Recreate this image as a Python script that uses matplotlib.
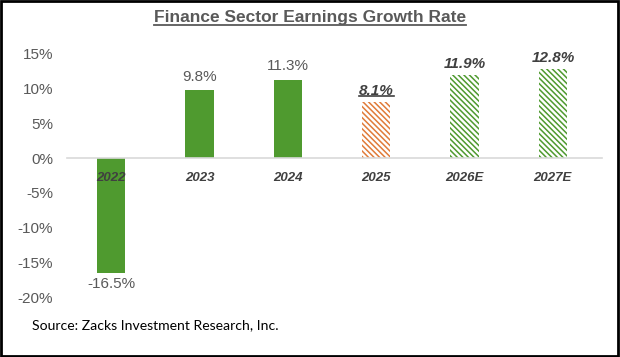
import matplotlib.pyplot as plt
from matplotlib.patches import Rectangle
from matplotlib.lines import Line2D

categories = ["2022", "2023", "2024", "2025", "2026E", "2027E"]
growth = [-16.5, 9.8, 11.3, 8.1, 11.9, 12.8]
labels = ["-16.5%", "9.8%", "11.3%", "8.1%", "11.9%", "12.8%"]
yticks = [-20, -15, -10, -5, 0, 5, 10, 15]

green = "#4f9a2f"
orange = "#e07b39"
gray = "#595959"

plt.rcParams["font.family"] = ["Liberation Sans", "DejaVu Sans"]
plt.rcParams["hatch.linewidth"] = 1.1

fig = plt.figure(figsize=(6.2, 3.57), dpi=100)
ax = fig.add_axes([0.108, 0.168, 0.855, 0.681])

x = list(range(len(categories)))
for i, v in enumerate(growth):
    if i < 3:
        ax.bar(x[i], v, width=0.32, color=green, linewidth=0)
    else:
        c = orange if i == 3 else green
        ax.bar(x[i], v, width=0.32, facecolor="white", edgecolor=c,
               hatch="\\" * 6, linewidth=0)

ax.set_xlim(-0.5, len(categories) - 0.5)
ax.set_ylim(-20, 15)
ax.set_yticks(yticks)
ax.set_yticklabels([f"{t}%" for t in yticks], fontsize=11, color=gray)
ax.tick_params(axis="y", length=0, pad=10)
ax.set_xticks([])
for s in ax.spines.values():
    s.set_visible(False)
ax.axhline(0, color="#d9d9d9", linewidth=1.2, xmax=1.01, clip_on=False)

# category labels just under the zero line
for i, c in enumerate(categories):
    ax.annotate(c, (x[i], 0), xytext=(0, -14), textcoords="offset points",
                ha="center", va="center", fontsize=9.5, fontweight="bold",
                fontstyle="italic", color="#404040")

# value labels
for i, v in enumerate(growth):
    if i >= 3:
        ax.annotate(labels[i], (x[i], v), xytext=(0, 3), textcoords="offset points",
                    ha="center", va="bottom", fontsize=11, fontweight="bold",
                    fontstyle="italic", color="#404040")
    else:
        ax.annotate(labels[i], (x[i], v), xytext=(0, 4.5 if v > 0 else -3),
                    textcoords="offset points", ha="center",
                    va="bottom" if v > 0 else "top", fontsize=11, color=gray)

fig.canvas.draw()
renderer = fig.canvas.get_renderer()

# underline for 8.1%
t81 = [a for a in ax.texts if a.get_text() == "8.1%"][0]
bb = t81.get_window_extent(renderer).transformed(fig.transFigure.inverted())
fig.add_artist(Line2D([bb.x0, bb.x1], [bb.y0 + 0.004, bb.y0 + 0.004],
                      color="#404040", linewidth=1.2))

title = fig.text(0.5, 0.952, "Finance Sector Earnings Growth Rate", ha="center",
                 va="center", fontsize=12.5, fontweight="bold", color=gray)
tb = title.get_window_extent(renderer).transformed(fig.transFigure.inverted())
fig.add_artist(Line2D([tb.x0, tb.x1], [tb.y0 - 0.002, tb.y0 - 0.002],
                      color=gray, linewidth=1.3))

fig.text(0.052, 0.088, "Source: Zacks Investment Research, Inc.", ha="left",
         va="center", fontsize=10.1, family=["Lato", "DejaVu Sans"], color="black")

fig.add_artist(Rectangle((0.002, 0.003), 0.995, 0.993, transform=fig.transFigure,
                         fill=False, edgecolor="black", linewidth=2))

fig.savefig("out.png", dpi=100)
